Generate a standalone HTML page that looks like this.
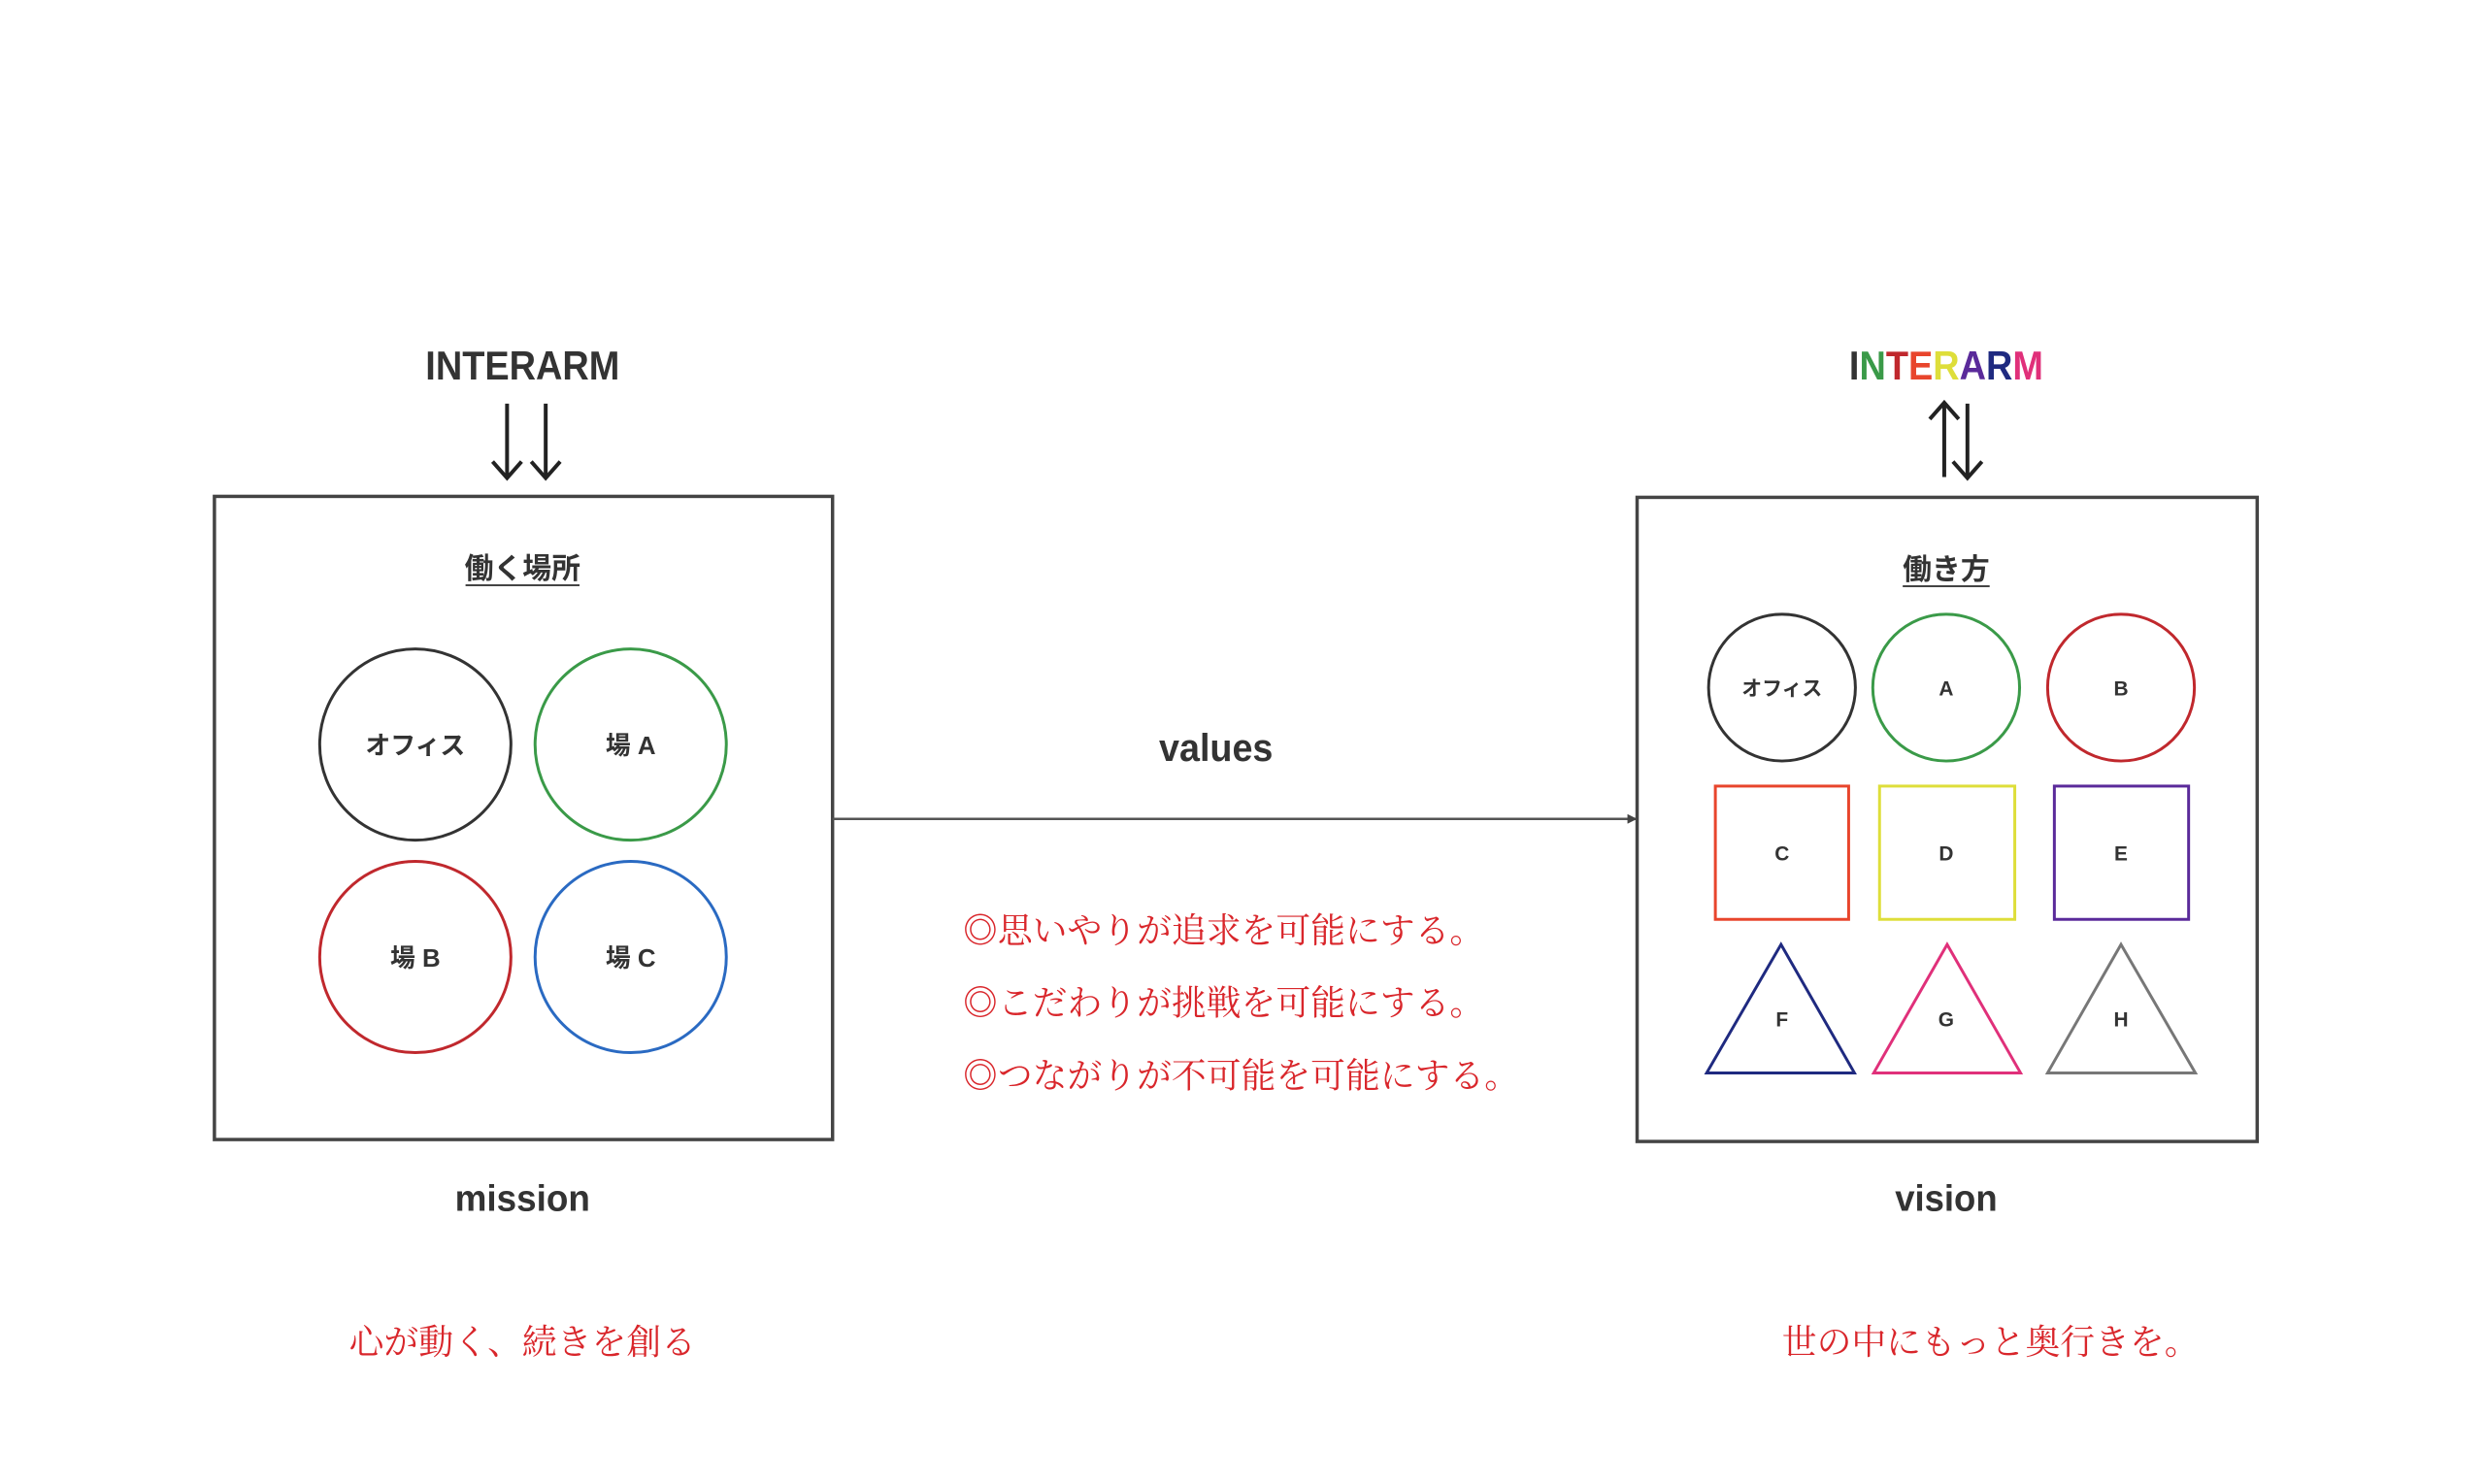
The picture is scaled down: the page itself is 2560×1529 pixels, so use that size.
<!DOCTYPE html>
<html><head><meta charset="utf-8"><style>
html,body{margin:0;padding:0;background:#fff;}
svg{display:block;}
.b{font-family:"Liberation Sans","Noto Sans CJK JP",sans-serif;font-weight:bold;fill:#333;}
.r{font-family:"Noto Serif CJK SC","Liberation Serif",serif;fill:#d9262b;}
</style></head><body>
<svg width="2560" height="1529" viewBox="0 0 2560 1529" xmlns="http://www.w3.org/2000/svg">
<defs>
<marker id="ah" markerWidth="10" markerHeight="10" refX="9" refY="5" orient="auto" markerUnits="userSpaceOnUse"><path d="M0,0 L10,5 L0,10 z" fill="#444"/></marker>
</defs>
<g transform="scale(0.995)">
<!-- left -->
<text class="b" x="541" y="393" font-size="42" text-anchor="middle" textLength="201" lengthAdjust="spacingAndGlyphs">INTERARM</text>
<g stroke="#222" stroke-width="4" fill="none">
<line x1="525" y1="418" x2="525" y2="494"/><polyline points="510,478 525,495 540,478"/>
<line x1="565" y1="418" x2="565" y2="494"/><polyline points="550,478 565,495 580,478"/>
</g>
<rect x="222" y="514" width="640" height="666" fill="none" stroke="#444" stroke-width="3.5"/>
<text class="b" x="541" y="599" font-size="30" text-anchor="middle">働く場所</text>
<line x1="482" y1="606" x2="600" y2="606" stroke="#444" stroke-width="2"/>
<g fill="none" stroke-width="3">
<circle cx="430" cy="771" r="99" stroke="#333"/>
<circle cx="653" cy="771" r="99" stroke="#3a9a48"/>
<circle cx="430" cy="991" r="99" stroke="#c0282d"/>
<circle cx="653" cy="991" r="99" stroke="#2a6ac2"/>
</g>
<g class="b" font-size="26" text-anchor="middle">
<text x="430" y="781">オフィス</text>
<text x="653" y="781">場 A</text>
<text x="430" y="1001">場 B</text>
<text x="653" y="1001">場 C</text>
</g>
<text class="b" x="541" y="1254" font-size="38" text-anchor="middle" textLength="140" lengthAdjust="spacingAndGlyphs">mission</text>
<text class="r" x="541" y="1402" font-size="36" text-anchor="middle">心が動く、続きを創る</text>
<!-- connector -->
<line x1="862" y1="848" x2="1694" y2="848" stroke="#555" stroke-width="2.5" marker-end="url(#ah)"/>
<text class="b" x="1259" y="788" font-size="40" text-anchor="middle" textLength="118" lengthAdjust="spacingAndGlyphs">values</text>
<g class="r" font-size="36">
<text x="997" y="976">◎思いやりが追求を可能にする。</text>
<text x="997" y="1051">◎こだわりが挑戦を可能にする。</text>
<text x="997" y="1126">◎つながりが不可能を可能にする。</text>
</g>
<!-- right -->
<text x="2015" y="393" font-size="42" text-anchor="middle" font-family="Liberation Sans, sans-serif" font-weight="bold" textLength="201" lengthAdjust="spacingAndGlyphs"><tspan fill="#333">I</tspan><tspan fill="#3a9a48">N</tspan><tspan fill="#c0282d">T</tspan><tspan fill="#e8452c">E</tspan><tspan fill="#dede3a">R</tspan><tspan fill="#5a2a9a">A</tspan><tspan fill="#1f2a80">R</tspan><tspan fill="#e0307a">M</tspan></text>
<g stroke="#222" stroke-width="4" fill="none">
<line x1="2013" y1="418" x2="2013" y2="494"/><polyline points="1998,434 2013,417 2028,434"/>
<line x1="2037" y1="418" x2="2037" y2="494"/><polyline points="2022,478 2037,495 2052,478"/>
</g>
<rect x="1695" y="515" width="642" height="667" fill="none" stroke="#444" stroke-width="3.5"/>
<text class="b" x="2015" y="600" font-size="30" text-anchor="middle">働き方</text>
<line x1="1970" y1="607" x2="2060" y2="607" stroke="#444" stroke-width="2"/>
<g fill="none" stroke-width="3">
<circle cx="1845" cy="712" r="76" stroke="#333"/>
<circle cx="2015" cy="712" r="76" stroke="#3a9a48"/>
<circle cx="2196" cy="712" r="76" stroke="#c0282d"/>
<rect x="1776" y="814" width="138" height="138" stroke="#e8452c"/>
<rect x="1946" y="814" width="140" height="138" stroke="#dede3a"/>
<rect x="2127" y="814" width="139" height="138" stroke="#5a2a9a"/>
<polygon points="1844,978 1920,1111 1767,1111" stroke="#1f2a80"/>
<polygon points="2016,978 2092,1111 1940,1111" stroke="#e0307a"/>
<polygon points="2196,978 2273,1111 2120,1111" stroke="#777"/>
</g>
<g class="b" font-size="21" text-anchor="middle">
<text x="1845" y="720">オフィス</text>
<text x="2015" y="720">A</text>
<text x="2196" y="720">B</text>
<text x="1845" y="891">C</text>
<text x="2015" y="891">D</text>
<text x="2196" y="891">E</text>
<text x="1845" y="1063">F</text>
<text x="2015" y="1063">G</text>
<text x="2196" y="1063">H</text>
</g>
<text class="b" x="2015" y="1254" font-size="38" text-anchor="middle" textLength="106" lengthAdjust="spacingAndGlyphs">vision</text>
<text class="r" x="2061" y="1402" font-size="36" text-anchor="middle">世の中にもっと奥行きを。</text>
</g>
</svg>
</body></html>
